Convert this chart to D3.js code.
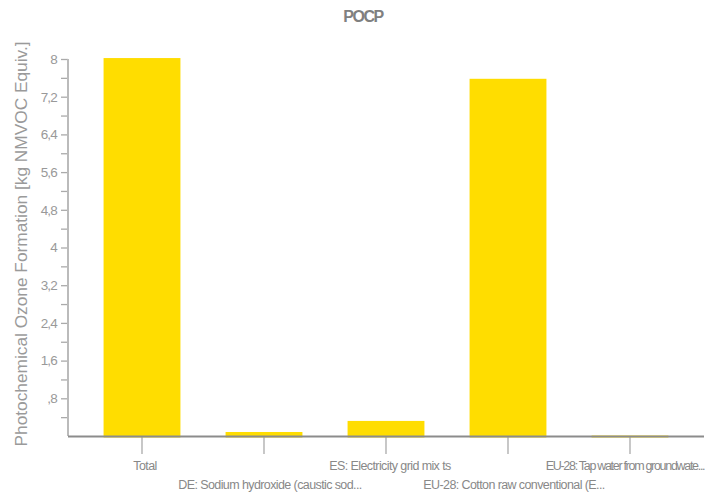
<!DOCTYPE html>
<html><head><meta charset="utf-8">
<script src="https://cdn.jsdelivr.net/npm/d3@7"></script>
<style>body{margin:0;background:#fff}svg{display:block}</style>
</head><body>
<svg id="c" width="724" height="497"></svg>
<script>
const categories = ["Total","DE: Sodium hydroxide (caustic sod...","ES: Electricity grid mix ts","EU-28: Cotton raw conventional (E...","EU-28: Tap water from groundwate..."];
const values = [8.02, 0.085, 0.32, 7.58, 0.01];
const yTicks = [0.4,0.8,1.2,1.6,2,2.4,2.8,3.2,3.6,4,4.4,4.8,5.2,5.6,6,6.4,6.8,7.2,7.6,8];
const labelTicks = [0.8,1.6,2.4,3.2,4,4.8,5.6,6.4,7.2,8];
const title = "POCP";
const yTitle = "Photochemical Ozone Formation [kg NMVOC Equiv.]";

const svg = d3.select("#c");
const font = "'Liberation Sans', Arial, sans-serif";
const y = d3.scaleLinear().domain([0,8]).range([436,59]);
const x = d3.scaleBand().domain(categories).range([81,691]).paddingInner(0.37).paddingOuter(0.185);

// title
svg.append("text").attr("x",363).attr("y",22).attr("text-anchor","middle")
  .attr("font-family",font).attr("font-weight","bold").attr("font-size",16)
  .attr("letter-spacing","-1.4").attr("fill","#808080").text(title);

// y title
svg.append("text").attr("transform","translate(27,244) rotate(-90)").attr("text-anchor","middle")
  .attr("font-family",font).attr("font-size",17.3).attr("fill","#9a9a9a").text(yTitle);

// bars
svg.append("g").selectAll("rect").data(values).join("rect")
  .attr("x",(d,i)=>x(categories[i])).attr("width",x.bandwidth())
  .attr("y",d=>y(d)).attr("height",d=>y(0)-y(d)+1.5).attr("fill","#ffdd00");

// y axis
const fmt = v => { let s = String(Math.round(v*10)/10).replace(".",","); if (s.startsWith("0,")) s = s.slice(1); return s; };
const ya = svg.append("g").attr("transform","translate(68,0)")
  .call(d3.axisLeft(y).tickValues(yTicks).tickSize(7).tickPadding(4)
    .tickFormat(v => labelTicks.some(t=>Math.abs(t-v)<1e-6) ? fmt(v) : ""));
ya.select(".domain").remove();
ya.selectAll(".tick line").attr("stroke","#aaa").attr("stroke-width",1.3);
ya.selectAll(".tick text").attr("font-family",font).attr("font-size",13.5)
  .attr("letter-spacing","-0.8").attr("fill","#999");
svg.append("line").attr("x1",68).attr("x2",68).attr("y1",y(8)).attr("y2",y(0))
  .attr("stroke","#bbb").attr("stroke-width",2);

// x axis
const labelShift = [3,6,4,6,-5];
const labelSpacing = [-0.6,-0.6,-0.6,-0.6,-1.3];
const xa = svg.append("g").attr("transform","translate(0,437)")
  .call(d3.axisBottom(x).tickSize(17).tickSizeOuter(0).tickPadding(0));
xa.select(".domain").remove();
xa.selectAll(".tick line").attr("stroke","#aaa").attr("stroke-width",1.3);
xa.selectAll(".tick text").attr("font-family",font).attr("font-size",12.5)
  .attr("letter-spacing",(d,i)=>labelSpacing[i]).attr("fill","#888")
  .attr("dy",null).attr("y",(d,i)=> i%2===0 ? 33 : 52).attr("dx",(d,i)=>labelShift[i]);
svg.append("line").attr("x1",68).attr("x2",704).attr("y1",436.5).attr("y2",436.5)
  .attr("stroke","#8c8c8c").attr("stroke-width",2);
</script>
</body></html>
